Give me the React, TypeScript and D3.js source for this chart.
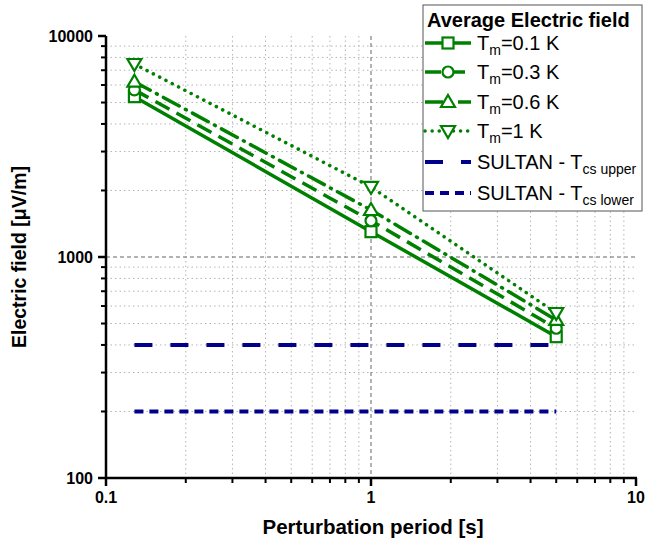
import * as d3 from "d3";

// dados
const periods = [0.128, 1, 5];
const tm01 = [5315, 1302, 436];
const tm03 = [5706, 1459, 476];
const tm06 = [6212, 1632, 519];
const tm1 = [7468, 2075, 558];
const sultanPeriods = [0.128, 5];
const sultanUpper = [400, 400];
const sultanLower = [200, 200];
const xTickLabels = [0.1, 1, 10];
const yTickLabels = [100, 1000, 10000];

const W = 647;
const H = 544;
const left = 106;
const right = 636;
const top = 36;
const bottom = 478;

const green = "#008000";
const navy = "#00008b";

const series = [
  { name: "0.1 K", values: tm01, dash: "", marker: "square" },
  { name: "0.3 K", values: tm03, dash: "16,8", marker: "circle" },
  { name: "0.6 K", values: tm06, dash: "18,7,1,7", marker: "up" },
  { name: "1 K", values: tm1, dash: "0.1,7", marker: "down" },
];

const Marker = ({ type, x, y }: { type: string; x: number; y: number }) => {
  const p = { fill: "white", stroke: green, strokeWidth: 2.2 };
  if (type === "square") return <rect x={x - 5.5} y={y - 5.5} width={11} height={11} {...p} />;
  if (type === "circle") return <circle cx={x} cy={y} r={5.5} {...p} />;
  if (type === "up")
    return <path d={`M${x},${y - 7} L${x + 7},${y + 5} L${x - 7},${y + 5} Z`} {...p} />;
  return <path d={`M${x},${y + 7} L${x + 7},${y - 5} L${x - 7},${y - 5} Z`} {...p} />;
};

export default function App() {
  const x = d3.scaleLog().domain([0.1, 10]).range([left, right]);
  const y = d3.scaleLog().domain([100, 10000]).range([bottom, top]);
  const line = d3
    .line<number>()
    .x((d, i) => x(periods[i]))
    .y((d) => y(d));
  const sLine = d3
    .line<number>()
    .x((d, i) => x(sultanPeriods[i]))
    .y((d) => y(d));

  const xMinor = x.ticks().filter((t) => !xTickLabels.some((m) => Math.abs(m - t) < 1e-9));
  const yMinor = y.ticks().filter((t) => !yTickLabels.includes(t));

  const font = "Arial, 'Liberation Sans', sans-serif";
  const legendRows = [43, 72, 102, 131, 162, 193];

  return (
    <div style={{ position: "absolute", left: 0, top: 0 }}>
      <svg width={W} height={H} style={{ display: "block", fontFamily: font }}>
        <rect width={W} height={H} fill="white" />
        {/* grelha */}
        {xMinor.map((t) => (
          <line key={"gx" + t} x1={x(t)} x2={x(t)} y1={top} y2={bottom} stroke="#b4b4b4" strokeDasharray="1.5,3" />
        ))}
        {yMinor.map((t) => (
          <line key={"gy" + t} x1={left} x2={right} y1={y(t)} y2={y(t)} stroke="#b4b4b4" strokeDasharray="1.5,3" />
        ))}
        <line x1={x(1)} x2={x(1)} y1={top} y2={bottom} stroke="#666" strokeDasharray="4,3" />
        <line x1={left} x2={right} y1={y(1000)} y2={y(1000)} stroke="#666" strokeDasharray="4,3" />

        {/* SULTAN */}
        <path d={sLine(sultanUpper) || ""} fill="none" stroke={navy} strokeWidth={4} strokeDasharray="18,18" />
        <path d={sLine(sultanLower) || ""} fill="none" stroke={navy} strokeWidth={4} strokeDasharray="9,6" />

        {/* séries */}
        {series.map((s) => (
          <path
            key={s.name}
            d={line(s.values) || ""}
            fill="none"
            stroke={green}
            strokeWidth={3.5}
            strokeDasharray={s.dash}
            strokeLinecap={s.marker === "down" || s.marker === "up" ? "round" : "butt"}
          />
        ))}
        {series.map((s) =>
          s.values.map((v, i) => <Marker key={s.name + i} type={s.marker} x={x(periods[i])} y={y(v)} />)
        )}

        {/* eixos */}
        <line x1={left} x2={left} y1={top} y2={bottom + 1} stroke="black" strokeWidth={2.5} />
        <line x1={left - 1} x2={right + 1} y1={bottom} y2={bottom} stroke="black" strokeWidth={2.5} />
        {xTickLabels.map((t) => (
          <g key={"xt" + t}>
            <line x1={x(t)} x2={x(t)} y1={bottom} y2={bottom + 8} stroke="black" strokeWidth={2.5} />
            <text x={x(t)} y={bottom + 25} textAnchor="middle" fontSize={16} fontWeight="bold">
              {t}
            </text>
          </g>
        ))}
        {xMinor.map((t) => (
          <line key={"xm" + t} x1={x(t)} x2={x(t)} y1={bottom} y2={bottom + 5} stroke="black" strokeWidth={2} />
        ))}
        {yTickLabels.map((t) => (
          <g key={"yt" + t}>
            <line x1={left - 8} x2={left} y1={y(t)} y2={y(t)} stroke="black" strokeWidth={2.5} />
            <text x={left - 13} y={y(t) + 5.5} textAnchor="end" fontSize={16} fontWeight="bold">
              {t}
            </text>
          </g>
        ))}
        {yMinor.map((t) => (
          <line key={"ym" + t} x1={left - 5} x2={left} y1={y(t)} y2={y(t)} stroke="black" strokeWidth={2} />
        ))}

        <text x={(left + right) / 2 + 2} y={534} textAnchor="middle" fontSize={20.5} fontWeight="bold">
          Perturbation period [s]
        </text>
        <text
          transform={`translate(26,${(top + bottom) / 2}) rotate(-90)`}
          textAnchor="middle"
          fontSize={19.5}
          fontWeight="bold"
        >
          Electric field [μV/m]
        </text>

        {/* legenda */}
        <rect x={423} y={5} width={219} height={206} fill="white" stroke="#555" strokeWidth={1} />
        <text x={427} y={27} fontSize={20} fontWeight="bold">
          Average Electric field
        </text>
        {series.map((s, i) => (
          <g key={"lg" + s.name}>
            <line
              x1={425}
              x2={471}
              y1={legendRows[i]}
              y2={legendRows[i]}
              stroke={green}
              strokeWidth={3.5}
              strokeDasharray={s.dash}
              strokeLinecap={s.marker === "down" ? "round" : "butt"}
            />
            <Marker type={s.marker} x={448} y={legendRows[i]} />
            <text x={477} y={legendRows[i] + 7} fontSize={20}>
              T<tspan fontSize={14} dy={5}>m</tspan>
              <tspan dy={-5}>={s.name}</tspan>
            </text>
          </g>
        ))}
        {[
          { label: "upper", dash: "18,18" },
          { label: "lower", dash: "9,6" },
        ].map((s, i) => (
          <g key={"ls" + s.label}>
            <line
              x1={425}
              x2={471}
              y1={legendRows[4 + i]}
              y2={legendRows[4 + i]}
              stroke={navy}
              strokeWidth={4}
              strokeDasharray={s.dash}
            />
            <text x={477} y={legendRows[4 + i] + 7} fontSize={20}>
              SULTAN - T<tspan fontSize={14} dy={5}>cs {s.label}</tspan>
            </text>
          </g>
        ))}
      </svg>
    </div>
  );
}
